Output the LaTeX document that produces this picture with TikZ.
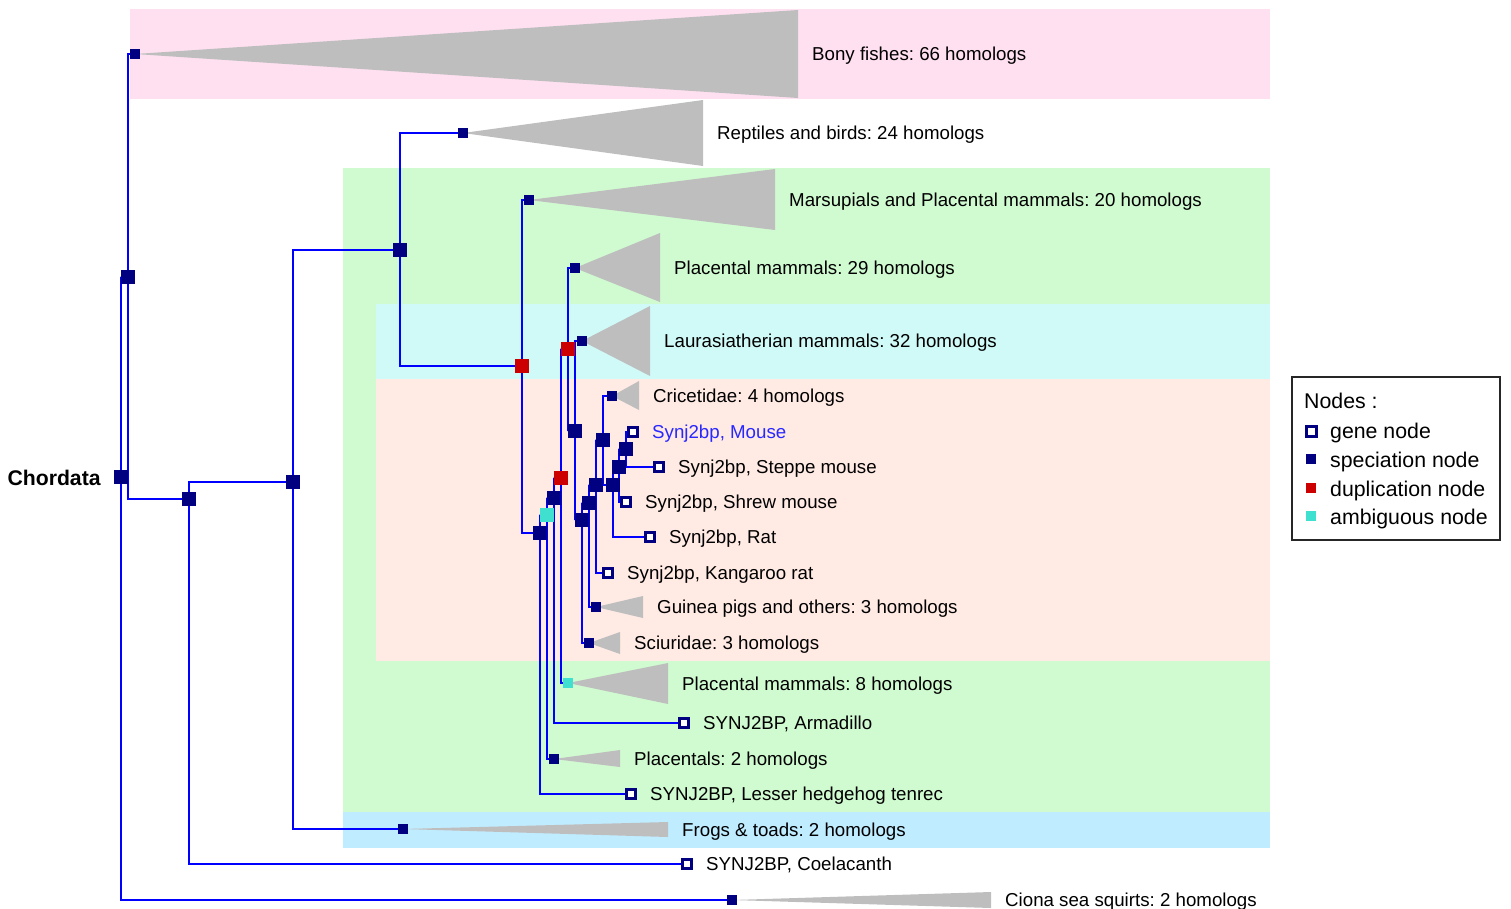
\documentclass[tikz,border=0pt]{standalone}
\usepackage{fontspec}
\setmainfont{Liberation Sans}
\usetikzlibrary{positioning}

\definecolor{navy}{RGB}{0,0,128}
\definecolor{dupred}{RGB}{204,0,0}
\definecolor{turq}{RGB}{64,224,208}
\definecolor{treeblue}{RGB}{0,0,255}
\definecolor{cladegray}{RGB}{190,190,190}
\definecolor{bandpink}{RGB}{255,224,240}
\definecolor{bandgreen}{RGB}{208,250,208}
\definecolor{bandcyan}{RGB}{208,250,248}
\definecolor{bandpeach}{RGB}{255,234,228}
\definecolor{bandblue}{RGB}{192,236,255}
\definecolor{mouseblue}{RGB}{40,40,255}

\pgfdeclarelayer{bg}
\pgfsetlayers{bg,main}

\begin{document}
\frenchspacing
\begin{tikzpicture}[x=1pt,y=-1pt,
  every node/.style={font=\fontsize{18.7}{22}\selectfont},
  spec/.style={fill=navy,inner sep=0,minimum size=14},
  specsm/.style={spec,minimum size=10},
  dup/.style={fill=dupred,inner sep=0,minimum size=14},
  amb/.style={fill=turq,inner sep=0,minimum size=14},
  ambsm/.style={amb,minimum size=10},
  gene/.style={draw=navy,line width=3,fill=white,inner sep=0,minimum size=9},
  br/.style={draw=treeblue,line width=1.8},
  tri/.style={fill=cladegray},
  lbl/.style={anchor=west,inner sep=0,text height=0.72em,text depth=0pt,yshift=-3pt},
  lgd/.style={lbl,font=\fontsize{21.3}{25}\selectfont,yshift=-2pt}]
\useasboundingbox (0,0) rectangle (1511,908);

% tree nodes
\node[spec] (root) at (121,477) {};
\node[lbl,font=\fontsize{21.2}{25}\selectfont\bfseries,left=13pt of root,yshift=-2pt] (rootlab) {Chordata};
\node[spec] (A) at (128,277) {};
\node[specsm] (bony) at (135,54) {};
\node[spec] (B) at (189,499) {};
\node[spec] (C) at (293,482) {};
\node[spec] (D) at (400,250) {};
\node[specsm] (rept) at (463,133) {};
\node[dup] (E) at (522,366) {};
\node[specsm] (mars) at (529,200) {};
\node[spec] (F) at (540,533) {};
\node[amb] (G) at (547,515) {};
\node[spec] (H) at (554,498) {};
\node[dup] (I) at (561,478) {};
\node[dup] (J) at (568,349) {};
\node[specsm] (plac29) at (575,268) {};
\node[spec] (K) at (575,431) {};
\node[specsm] (laur) at (582,341) {};
\node[spec] (L) at (582,520) {};
\node[spec] (M) at (589,503) {};
\node[spec] (N) at (596,485) {};
\node[spec] (O) at (603,440) {};
\node[specsm] (cric) at (612,396) {};
\node[spec] (P) at (613,485) {};
\node[spec] (Q) at (619,467) {};
\node[spec] (R) at (626,449) {};
\node[specsm] (guinea) at (596,607) {};
\node[specsm] (sciur) at (589,643) {};
\node[ambsm] (plac8) at (568,683) {};
\node[specsm] (plac2) at (554,759) {};
\node[specsm] (frogs) at (403,829) {};
\node[specsm] (ciona) at (732,900) {};

% genes
\node[gene] (mouse) at (633,432) {};
\node[gene] (steppe) at (659,467) {};
\node[gene] (shrew) at (626,502) {};
\node[gene] (rat) at (650,537) {};
\node[gene] (kang) at (608,573) {};
\node[gene] (arma) at (684,723) {};
\node[gene] (tenrec) at (631,794) {};
\node[gene] (coel) at (687,864) {};

\node[lbl,text=mouseblue,right=13pt of mouse] (mouselab) {Synj2bp, Mouse};
\node[lbl,right=13pt of steppe] (steppelab) {Synj2bp, Steppe mouse};
\node[lbl,right=13pt of shrew] (shrewlab) {Synj2bp, Shrew mouse};
\node[lbl,right=13pt of rat] (ratlab) {Synj2bp, Rat};
\node[lbl,right=13pt of kang] (kanglab) {Synj2bp, Kangaroo rat};
\node[lbl,right=13pt of arma] (armalab) {SYNJ2BP, Armadillo};
\node[lbl,right=13pt of tenrec] (tenreclab) {SYNJ2BP, Lesser hedgehog tenrec};
\node[lbl,right=13pt of coel] (coellab) {SYNJ2BP, Coelacanth};

\begin{pgfonlayer}{bg}
% taxon bands
\fill[bandpink] (130,9) rectangle (1270,99);
\fill[bandgreen] (343,168) rectangle (1270,812);
\fill[bandcyan] (376,304) rectangle (1270,379);
\fill[bandpeach] (376,379) rectangle (1270,661);
\fill[bandblue] (343,812) rectangle (1270,848);
\end{pgfonlayer}

% collapsed clades
\foreach \n/\bx/\ty/\by/\t in {
  bony/798/10/98/{Bony fishes: 66 homologs},
  rept/703/100/166/{Reptiles and birds: 24 homologs},
  mars/775/169/230/{Marsupials and Placental mammals: 20 homologs},
  plac29/660/233/302/{Placental mammals: 29 homologs},
  laur/650/306/376/{Laurasiatherian mammals: 32 homologs},
  cric/639/381/410/{Cricetidae: 4 homologs},
  guinea/643/596/618/{Guinea pigs and others: 3 homologs},
  sciur/620/632/654/{Sciuridae: 3 homologs},
  plac8/668/663/704/{Placental mammals: 8 homologs},
  plac2/620/750/767/{Placentals: 2 homologs},
  frogs/668/822/837/{Frogs \& toads: 2 homologs},
  ciona/991/892/908/{Ciona sea squirts: 2 homologs}}
{
  \begin{pgfonlayer}{bg}
  \fill[tri] (\n.center) -- (\bx,\ty) -- (\bx,\by) -- cycle;
  \end{pgfonlayer}
  \node[lbl] (\n lab) at (\bx+14,{(\ty+\by)/2}) {\t};
}

% branches
\begin{pgfonlayer}{bg}
\foreach \p/\c in {root/A,root/ciona,A/bony,A/B,B/C,B/coel,C/D,C/frogs,
  D/rept,D/E,E/mars,E/F,F/G,F/tenrec,G/H,G/plac2,H/I,H/arma,I/J,I/plac8,
  J/plac29,J/K,K/laur,K/L,L/M,L/sciur,M/N,M/guinea,N/O,N/kang,
  O/cric,O/P,P/Q,P/rat,Q/R,Q/shrew,R/mouse,R/steppe}
  \draw[br] (\p) |- (\c);
\end{pgfonlayer}

% legend
\draw[line width=1.5,draw=black!85] (1292,377) rectangle (1500,540);
\node[lgd] (lgdtitle) at (1304,400) {Nodes :};
\node[gene,minimum size=10] (lgene) at (1311,431) {};
\node[specsm] (lspec) at (1311,459) {};
\node[dup,minimum size=10] (ldup) at (1311,488) {};
\node[ambsm] (lamb) at (1311,516) {};
\node[lgd] (lgenelab) at (1330,430) {gene node};
\node[lgd] (lspeclab) at (1330,459) {speciation node};
\node[lgd] (lduplab) at (1330,488) {duplication node};
\node[lgd] (lamblab) at (1330,516) {ambiguous node};
\end{tikzpicture}
\end{document}
